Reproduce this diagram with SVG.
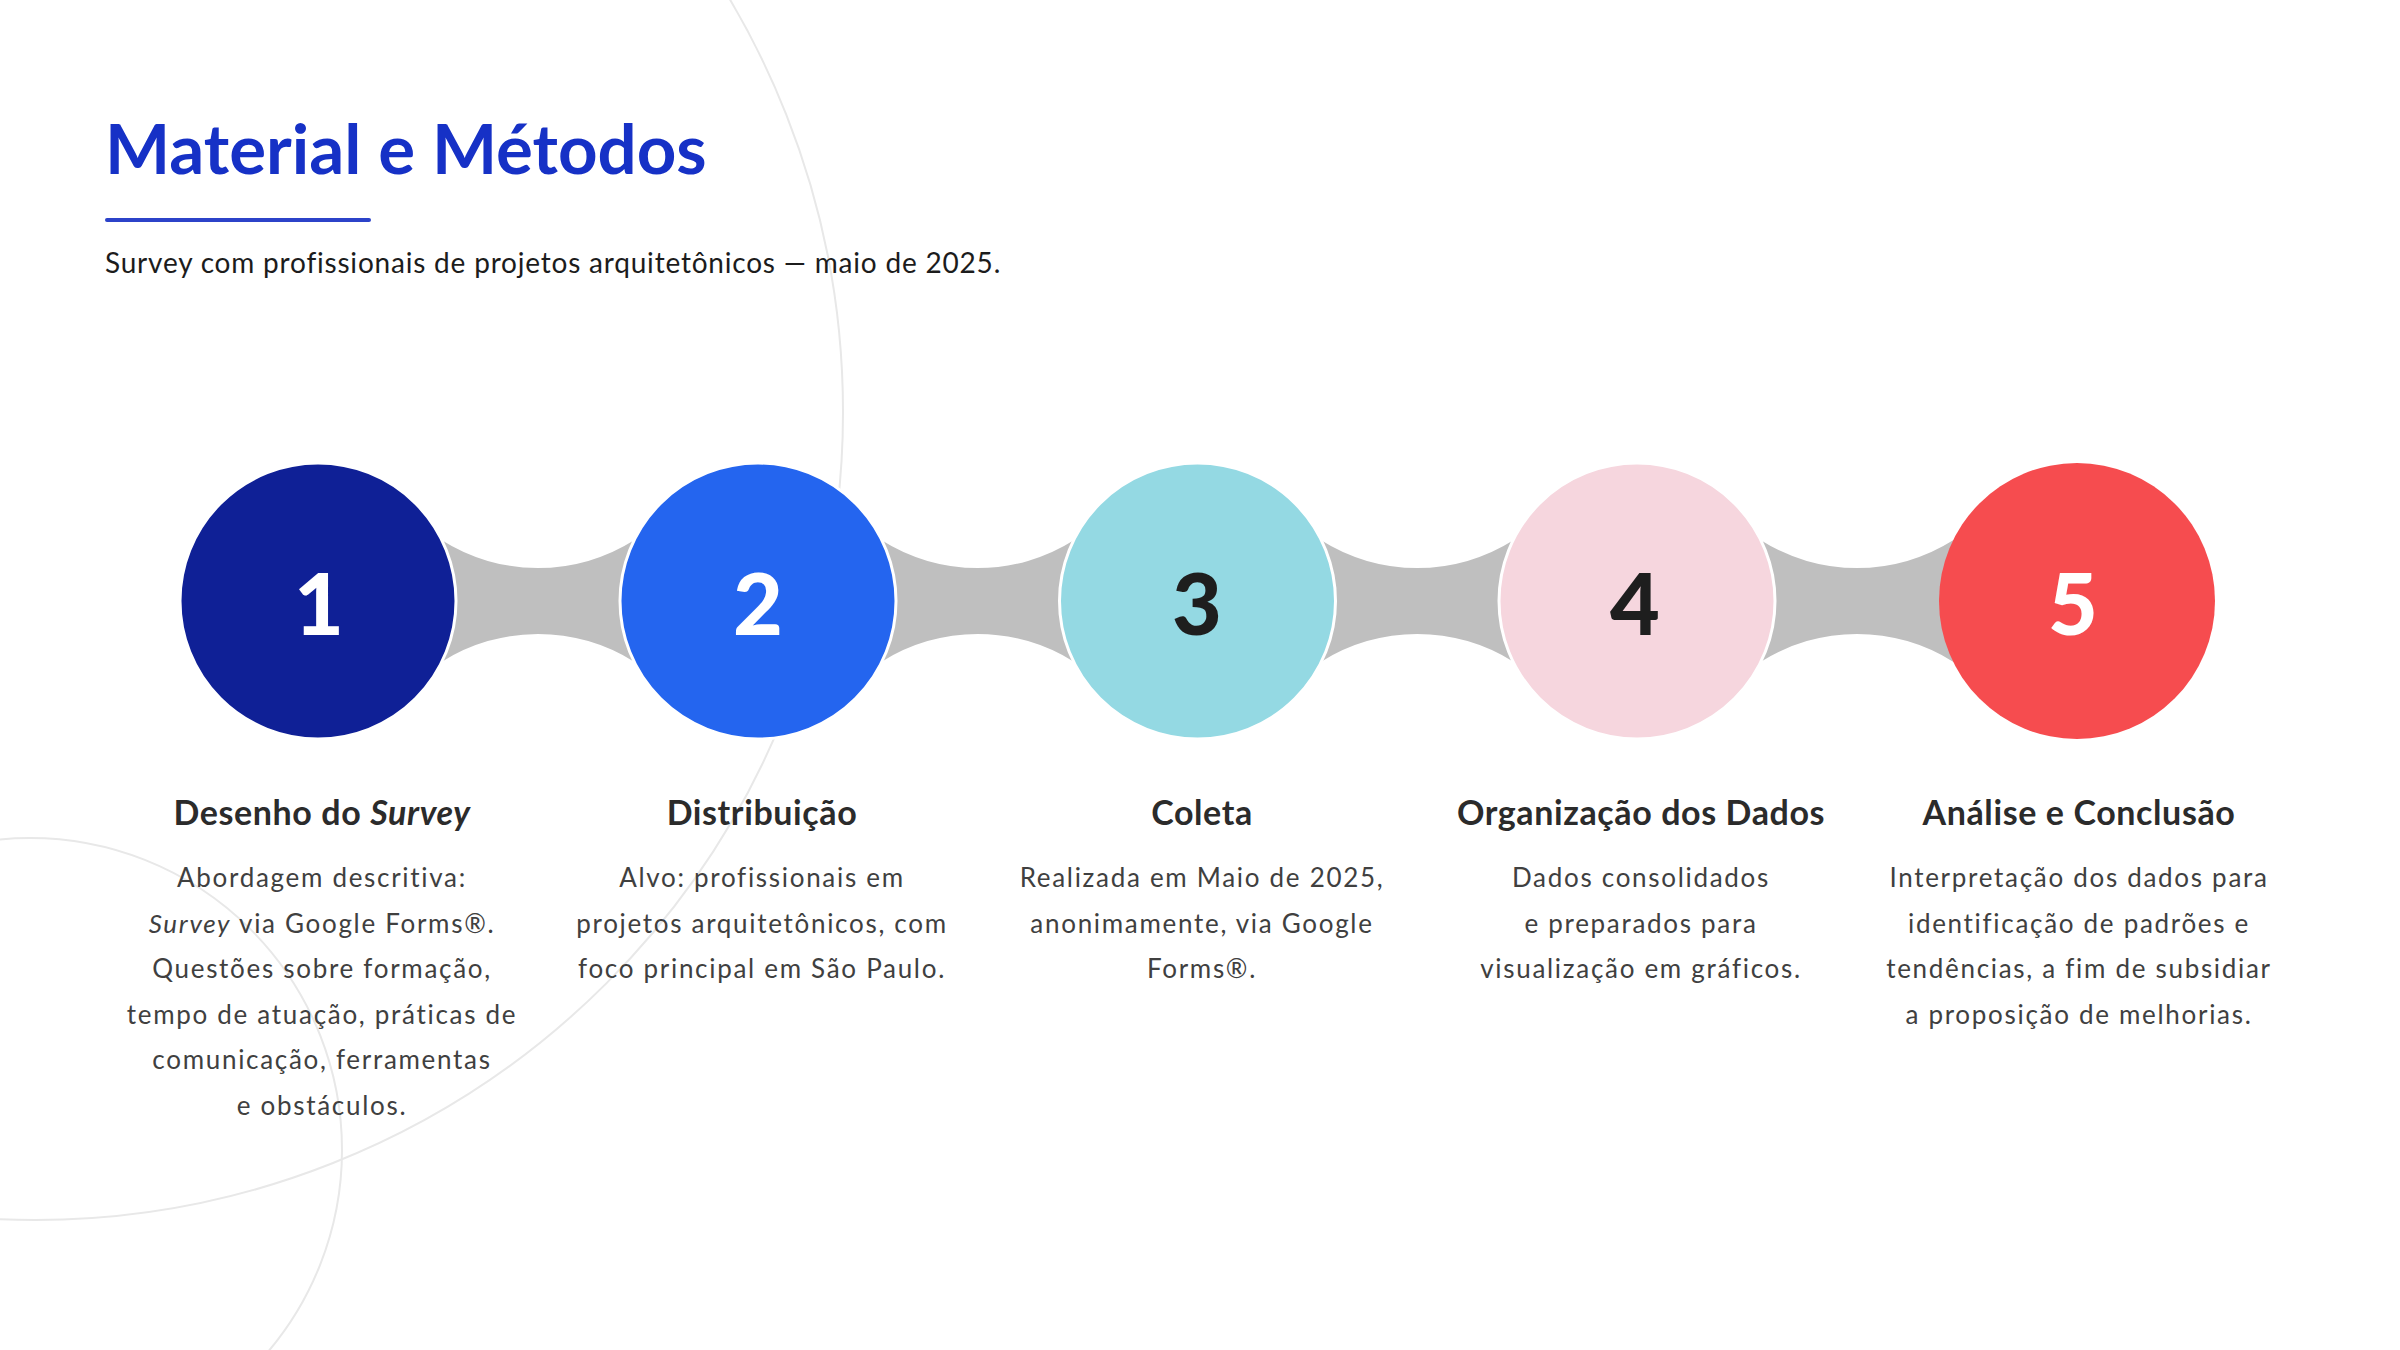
<svg xmlns="http://www.w3.org/2000/svg" width="2400" height="1350" viewBox="0 0 2400 1350">
<style>
.bg{fill:none;stroke:#e8e8e8;stroke-width:2}
.conn{fill:#bfbfbf}
.node{stroke:#ffffff;stroke-width:3}
.num{font-family:Lato,"Liberation Sans",sans-serif;font-weight:900;font-size:86px;text-anchor:middle}
.st{font-family:Lato,"Liberation Sans",sans-serif;font-weight:700;font-size:34px;letter-spacing:0.6px;fill:#2b2b2b;text-anchor:middle}
.sb{font-family:Lato,"Liberation Sans",sans-serif;font-weight:400;font-size:26px;letter-spacing:1.7px;fill:#404040;text-anchor:middle}
</style>
<rect width="2400" height="1350" fill="#ffffff"/>
<g id="background">
<circle class="bg" cx="35" cy="412" r="808"/>
<circle class="bg" cx="30" cy="1150" r="312"/>
</g>
<g id="header">
<text x="105" y="174" font-family="Lato,'Liberation Sans',sans-serif" font-weight="700" font-size="69" fill="#1631c6">Material e Métodos</text>
<rect x="105" y="218" width="266" height="4" rx="2" fill="#2c43c9"/>
<text x="105" y="273" font-family="Lato,'Liberation Sans',sans-serif" font-size="28" letter-spacing="0.8" fill="#1c1c1c">Survey com profissionais de projetos arquitetônicos — maio de 2025.</text>
</g>
<g id="connectors">
<path class="conn" d="M318,540 L441.5,540 A180 180 0 0 0 634.5,540 L758,540 L758,662 L634.5,662 A180 180 0 0 0 441.5,662 L318,662 Z"/>
<path class="conn" d="M758,540 L881.25,540 A180 180 0 0 0 1074.25,540 L1197.5,540 L1197.5,662 L1074.25,662 A180 180 0 0 0 881.25,662 L758,662 Z"/>
<path class="conn" d="M1197.5,540 L1320.75,540 A180 180 0 0 0 1513.75,540 L1637,540 L1637,662 L1513.75,662 A180 180 0 0 0 1320.75,662 L1197.5,662 Z"/>
<path class="conn" d="M1637,540 L1760.5,540 A180 180 0 0 0 1953.5,540 L2077,540 L2077,662 L1953.5,662 A180 180 0 0 0 1760.5,662 L1637,662 Z"/>
</g>
<g id="step1">
<circle class="node" cx="318" cy="601" r="138" fill="#0f2096"/>
<text class="num" x="319" y="635" fill="#ffffff">1</text>
<text class="st" x="322" y="825">Desenho do <tspan font-style="italic">Survey</tspan></text>
<text class="sb" x="322" y="887">Abordagem descritiva:</text>
<text class="sb" x="322" y="933"><tspan font-style="italic">Survey</tspan> via Google Forms®.</text>
<text class="sb" x="322" y="978">Questões sobre formação,</text>
<text class="sb" x="322" y="1024">tempo de atuação, práticas de</text>
<text class="sb" x="322" y="1069">comunicação, ferramentas</text>
<text class="sb" x="322" y="1115">e obstáculos.</text>
</g>
<g id="step2">
<circle class="node" cx="758" cy="601" r="138" fill="#2465ef"/>
<text class="num" x="758" y="635" fill="#ffffff">2</text>
<text class="st" x="762" y="825">Distribuição</text>
<text class="sb" x="762" y="887">Alvo: profissionais em</text>
<text class="sb" x="762" y="933">projetos arquitetônicos, com</text>
<text class="sb" x="762" y="978">foco principal em São Paulo.</text>
</g>
<g id="step3">
<circle class="node" cx="1197.5" cy="601" r="138" fill="#94d9e3"/>
<text class="num" x="1197" y="635" fill="#1e1e1e">3</text>
<text class="st" x="1202" y="825">Coleta</text>
<text class="sb" x="1202" y="887">Realizada em Maio de 2025,</text>
<text class="sb" x="1202" y="933">anonimamente, via Google</text>
<text class="sb" x="1202" y="978">Forms®.</text>
</g>
<g id="step4">
<circle class="node" cx="1637" cy="601" r="138" fill="#f6d6de"/>
<text class="num" x="1635" y="635" fill="#1e1e1e">4</text>
<text class="st" x="1641" y="825">Organização dos Dados</text>
<text class="sb" x="1641" y="887">Dados consolidados</text>
<text class="sb" x="1641" y="933">e preparados para</text>
<text class="sb" x="1641" y="978">visualização em gráficos.</text>
</g>
<g id="step5">
<circle cx="2077" cy="601" r="138" fill="#f64c4f"/>
<text class="num" x="2073" y="635" fill="#ffffff">5</text>
<text class="st" x="2079" y="825">Análise e Conclusão</text>
<text class="sb" x="2079" y="887">Interpretação dos dados para</text>
<text class="sb" x="2079" y="933">identificação de padrões e</text>
<text class="sb" x="2079" y="978">tendências, a fim de subsidiar</text>
<text class="sb" x="2079" y="1024">a proposição de melhorias.</text>
</g>
</svg>
